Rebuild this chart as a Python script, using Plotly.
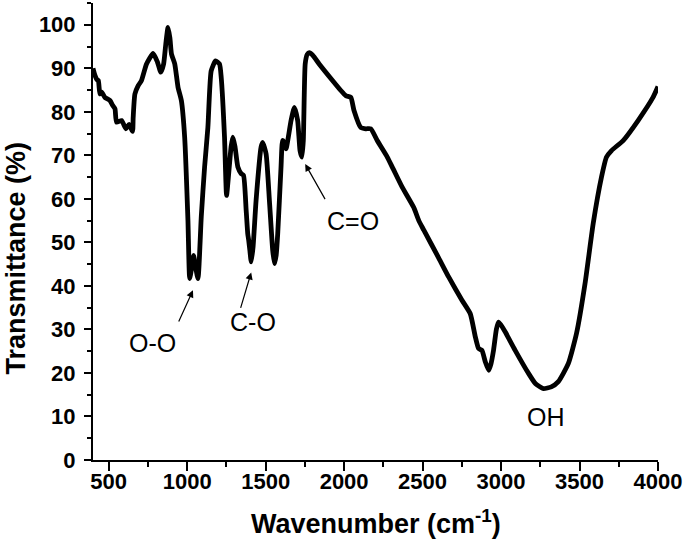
import plotly.graph_objects as go

wavenumber = [400, 413, 425, 434, 444, 455, 476, 508, 525, 540, 550, 582, 610, 630, 652, 656, 667, 688, 709,
              741, 783, 810, 832, 850, 865, 878, 890, 900, 921, 942, 963, 984, 1005, 1016, 1028, 1041, 1055,
              1069, 1090, 1111, 1132, 1153, 1181, 1206, 1217, 1238, 1251, 1265, 1280, 1291, 1305, 1323, 1344,
              1359, 1376, 1386, 1392, 1400, 1408, 1420, 1439, 1471, 1481, 1503, 1524, 1545, 1556, 1567, 1577,
              1598, 1608, 1618, 1630, 1662, 1683, 1704, 1719, 1731, 1740, 1752, 1765, 1778, 1800, 1841, 1926,
              1979, 2011, 2043, 2063, 2106, 2138, 2170, 2211, 2275, 2307, 2370, 2444, 2476, 2508, 2603, 2667,
              2751, 2804, 2836, 2857, 2878, 2900, 2921, 2935, 2952, 2970, 2984, 3000, 3027, 3090, 3175, 3220,
              3270, 3320, 3365, 3429, 3481, 3535, 3587, 3640, 3672, 3704, 3778, 3873, 3968, 4000]
transmittance = [90.0, 88.3, 87.4, 87.2, 84.1, 84.5, 83.3, 82.6, 81.5, 80.7, 77.6, 78.0, 76.1, 77.1, 75.5, 78.7,
                 84.1, 86.0, 87.2, 91.0, 93.4, 91.5, 89.1, 91.0, 96.0, 99.4, 97.0, 93.3, 91.0, 85.6, 82.6, 74.2,
                 55.0, 41.7, 44.0, 47.0, 44.0, 41.7, 56.0, 67.3, 76.4, 89.4, 91.7, 91.0, 87.9, 74.2, 60.8, 66.0,
                 72.0, 74.2, 72.0, 67.3, 65.8, 65.4, 57.3, 52.0, 50.5, 48.0, 45.5, 49.0, 59.6, 71.9, 73.0, 70.3,
                 59.6, 48.2, 45.1, 47.0, 52.0, 67.3, 73.4, 73.0, 71.5, 78.0, 81.0, 78.0, 71.1, 69.6, 73.4, 91.0,
                 93.2, 93.6, 93.0, 91.0, 87.2, 84.9, 83.7, 83.3, 80.3, 76.4, 76.1, 76.1, 73.4, 69.6, 67.3, 62.7,
                 58.0, 55.0, 52.8, 46.4, 42.0, 36.7, 33.6, 28.3, 25.6, 25.2, 22.5, 20.6, 22.0, 25.2, 30.0, 31.7,
                 31.0, 29.4, 25.2, 19.9, 17.5, 16.4, 16.8, 18.0, 22.2, 29.1, 40.5, 54.3, 65.0, 69.6, 71.1, 73.4,
                 78.0, 83.3, 85.8]

x_ticks = [500, 1000, 1500, 2000, 2500, 3000, 3500, 4000]
y_ticks = [0, 10, 20, 30, 40, 50, 60, 70, 80, 90, 100]

# annotation labels: (text, x, y) and arrows: (tip_x, tip_y, tail_x, tail_y)
label_text = ["O-O", "C-O", "C=O", "OH"]
label_x = [781, 1422, 2057, 3286]
label_y = [26.8, 31.7, 55.0, 9.9]
arrow_tip_x = [1037, 1408, 1752]
arrow_tip_y = [39.0, 43.1, 68.0]
arrow_tail_x = [942, 1338, 1884]
arrow_tail_y = [31.5, 34.6, 59.6]

FONT = "Liberation Sans, Arial, sans-serif"

fig = go.Figure()
fig.add_trace(go.Scatter(
    x=wavenumber, y=transmittance, mode="lines",
    line=dict(color="black", width=4.8, shape="spline", smoothing=0.5),
    hoverinfo="skip", showlegend=False))

tickfont = dict(family=FONT, size=22, color="black", weight="bold")

fig.update_xaxes(range=[400, 4000], tickvals=x_ticks, ticktext=[str(v) for v in x_ticks],
                 showline=True, linecolor="black", linewidth=2, mirror=False,
                 showgrid=False, zeroline=False, ticks="outside", ticklen=9, tickwidth=2,
                 tickcolor="black", tickfont=tickfont, ticklabelstandoff=-8,
                 minor=dict(dtick=250, tick0=0, ticks="outside", ticklen=5, tickwidth=2, tickcolor="black"))
fig.update_yaxes(range=[0, 105], tickvals=y_ticks, ticktext=[str(v) for v in y_ticks],
                 showline=True, linecolor="black", linewidth=2, mirror=False,
                 showgrid=False, zeroline=False, ticks="outside", ticklen=7, tickwidth=2,
                 tickcolor="black", tickfont=tickfont, ticklabelstandoff=4,
                 minor=dict(dtick=5, tick0=0, ticks="outside", ticklen=4, tickwidth=2, tickcolor="black"))

annotations = []
for t, x, y in zip(label_text, label_x, label_y):
    annotations.append(dict(x=x, y=y, xref="x", yref="y", text=t, showarrow=False,
                            font=dict(family=FONT, size=25, color="black"),
                            xanchor="center", yanchor="middle"))
for tx, ty, ax, ay in zip(arrow_tip_x, arrow_tip_y, arrow_tail_x, arrow_tail_y):
    annotations.append(dict(x=tx, y=ty, xref="x", yref="y", ax=ax, ay=ay, axref="x", ayref="y",
                            text="", showarrow=True, arrowhead=2, arrowsize=1.2, arrowwidth=1.2,
                            arrowcolor="black"))
annotations.append(dict(x=0.5, y=-0.1357, xref="paper", yref="paper",
                        text="Wavenumber (cm<sup>-1</sup>)", showarrow=False,
                        font=dict(family=FONT, size=27, color="black", weight="bold"),
                        xanchor="center", yanchor="middle"))
annotations.append(dict(x=-0.137, y=0.442, xref="paper", yref="paper",
                        text="Transmittance (%)", showarrow=False, textangle=-90,
                        font=dict(family=FONT, size=27, color="black", weight="bold"),
                        xanchor="center", yanchor="middle"))

fig.update_layout(
    width=685, height=545,
    margin=dict(l=93, r=25, t=3, b=85),
    paper_bgcolor="white", plot_bgcolor="white",
    annotations=annotations,
)

fig.write_html("out.html", config={"displayModeBar": False},
               post_script="document.body.style.margin='0px';")
